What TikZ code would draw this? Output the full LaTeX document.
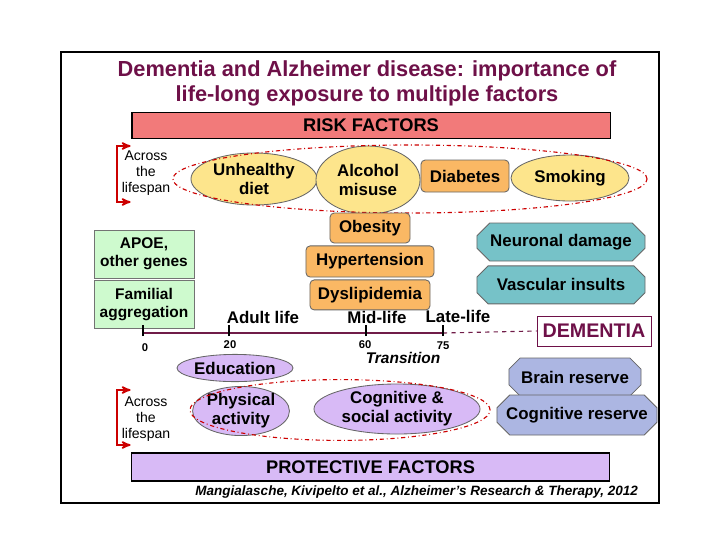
\documentclass[tikz,border=0pt]{standalone}
\usepackage{fontspec}
\setmainfont{Liberation Sans}
\usetikzlibrary{shapes,arrows,positioning}
\definecolor{titlered}{RGB}{110,16,72}
\definecolor{riskbar}{RGB}{242,122,122}
\definecolor{riskyellow}{RGB}{253,229,140}
\definecolor{riskorange}{RGB}{250,184,100}
\definecolor{genegreen}{RGB}{206,250,206}
\definecolor{damageteal}{RGB}{118,194,200}
\definecolor{lilac}{RGB}{216,186,246}
\definecolor{reserveblue}{RGB}{172,182,226}
\definecolor{lifeline}{RGB}{112,28,72}

\begin{document}
\begin{tikzpicture}[x=0.025cm,y=-0.025cm,>=stealth',semithick]
\tikzstyle{bar}=[draw=black,thick,inner sep=0pt,font=\fontsize{13}{15}\selectfont\bfseries]
\tikzstyle{risk}=[ellipse,draw=black!60,fill=riskyellow,inner sep=0pt,align=center,font=\fontsize{12}{13.5}\selectfont\bfseries]
\tikzstyle{factor}=[rectangle,rounded corners=3pt,draw=black!60,fill=riskorange,inner sep=0pt,font=\fontsize{12}{14}\selectfont\bfseries]
\tikzstyle{genes}=[rectangle,draw=black!55,fill=genegreen,inner sep=0pt,align=center,minimum width=2.5cm,minimum height=1.2cm,font=\fontsize{11}{13}\selectfont\bfseries]
\tikzstyle{damage}=[chamfered rectangle,chamfered rectangle xsep=7.5pt,draw=black!60,fill=damageteal,inner sep=0pt,font=\fontsize{12}{14}\selectfont\bfseries]
\tikzstyle{protect}=[ellipse,draw=black!60,fill=lilac,inner sep=0pt,align=center,font=\fontsize{12}{13.5}\selectfont\bfseries]
\tikzstyle{reserve}=[chamfered rectangle,chamfered rectangle xsep=7.5pt,draw=black!60,fill=reserveblue,inner sep=0pt,font=\fontsize{12}{14}\selectfont\bfseries]
\tikzstyle{group}=[ellipse,draw=red!80!black,dash dot,thick,inner sep=0pt]
\tikzstyle{lifespan}=[align=center,font=\fontsize{10}{11.5}\selectfont]
\tikzstyle{bracket}=[<->,red!80!black,line width=1.2pt,shorten <=1pt,shorten >=1pt]
\tikzstyle{period}=[font=\fontsize{12}{14}\selectfont\bfseries]
\tikzstyle{age}=[font=\fontsize{8}{9}\selectfont\bfseries]

\useasboundingbox (0,0) rectangle (720,540);
\draw[line width=1.5pt] (61,52) rectangle (659,503);

\node[text=titlered,align=center,font=\fontsize{15.5}{18}\selectfont\bfseries] (title) at (367,83.5)
  {Dementia and Alzheimer disease: importance of\\life-long exposure to multiple factors};
\node[bar,fill=riskbar,minimum width=11.95cm,minimum height=0.63cm] (riskbar) at (371,125.5) {RISK FACTORS};

% risk factors across the lifespan
\node[risk,minimum width=3.15cm,minimum height=1.3cm] (diet) at (254,179) {Unhealthy\\diet};
\node[risk,minimum width=2.95cm,minimum height=1.15cm] (smoking) at (570,178) {Smoking};
\node[factor,minimum width=2.2cm,minimum height=0.8cm] (diabetes) at (465,176) {Diabetes};
\node[risk,minimum width=2.6cm,minimum height=1.7cm] (alcohol) at (368,180) {Alcohol\\misuse};
\node[group,minimum width=11.85cm,minimum height=1.7cm] (riskgroup) at (410,179) {};

\node[lifespan] (spantop) at (146,173) {Across\\the\\lifespan};
\coordinate (spantopa) at (132,146);
\coordinate (spantopb) at (132,202);
\draw[bracket] (spantopa) -- ++(-15,0) |- (spantopb);

% mid-life factors
\node[factor,minimum width=2.0cm,minimum height=0.75cm] (obesity) at (370,228) {Obesity};
\node[factor,minimum width=3.2cm,minimum height=0.78cm,below=0.05cm of obesity] (hypertension) {Hypertension};
\node[factor,minimum width=3.0cm,minimum height=0.75cm,below=0.05cm of hypertension] (dyslipidemia) {Dyslipidemia};

\node[genes] (apoe) at (144,254) {APOE,\\other genes};
\node[genes,below=0.05cm of apoe] (familial) {Familial\\aggregation};

\node[damage,minimum width=4.2cm,minimum height=0.95cm] (neuronal) at (561,242) {Neuronal damage};
\node[damage,minimum width=4.2cm,minimum height=0.95cm,below=0.1cm of neuronal] (vascular) {Vascular insults};

% life course
\node[draw=titlered,thin,inner sep=0pt,minimum width=2.85cm,minimum height=0.75cm,text=titlered,
  font=\fontsize{14}{16}\selectfont\bfseries] (dementia) at (594,331) {DEMENTIA};
\coordinate (t0) at (143,333);
\coordinate (t20) at (229,333);
\coordinate (t60) at (366,333);
\coordinate (t75) at (443,333);
\draw[lifeline,line width=1.4pt] (t0) -- (t75);
\draw[lifeline,thick,dashed] (t75) -- (dementia.west);
\foreach \t in {t0,t20,t60,t75}
  \draw[black,line width=1.2pt] (\t) ++(0,3) -- ++(0,-11);
\node[period] (adult) at (263,317) {Adult life};
\node[period] (mid) at (377,317) {Mid-life};
\node[period] (late) at (458,316) {Late-life};
\node[age] (a0) at (145,348) {0};
\node[age] (a20) at (230,345) {20};
\node[age] (a60) at (365,345) {60};
\node[age] (a75) at (443,346) {75};
\node[font=\fontsize{11}{13}\selectfont\bfseries\itshape] (transition) at (403,358) {Transition};

% protective factors
\node[protect,minimum width=2.9cm,minimum height=0.68cm] (education) at (235,368) {Education};
\node[protect,minimum width=2.3cm,minimum height=1.2cm] (physical) at (241,411) {Physical\\activity};
\node[protect,minimum width=4.15cm,minimum height=1.25cm] (cognitive) at (397,409) {Cognitive \&\\social activity};
\node[group,minimum width=7.5cm,minimum height=1.52cm] (protectgroup) at (340,410) {};

\node[reserve,minimum width=3.3cm,minimum height=0.95cm] (brain) at (575,377) {Brain reserve};
\node[reserve,minimum width=4.0cm,minimum height=1.0cm] (cogreserve) at (577,415) {Cognitive reserve};

\node[lifespan] (spanbottom) at (146,419) {Across\\the\\lifespan};
\coordinate (spanbota) at (132,390);
\coordinate (spanbotb) at (132,445);
\draw[bracket] (spanbota) -- ++(-15,0) |- (spanbotb);

\node[bar,fill=lilac,minimum width=11.93cm,minimum height=0.7cm] (protectbar) at (370.5,467) {PROTECTIVE FACTORS};

\node[anchor=east,font=\fontsize{9.6}{11}\selectfont\bfseries\itshape] (source) at (643,492)
  {Mangialasche, Kivipelto et al., Alzheimer's Research \& Therapy, 2012};
\end{tikzpicture}
\end{document}
